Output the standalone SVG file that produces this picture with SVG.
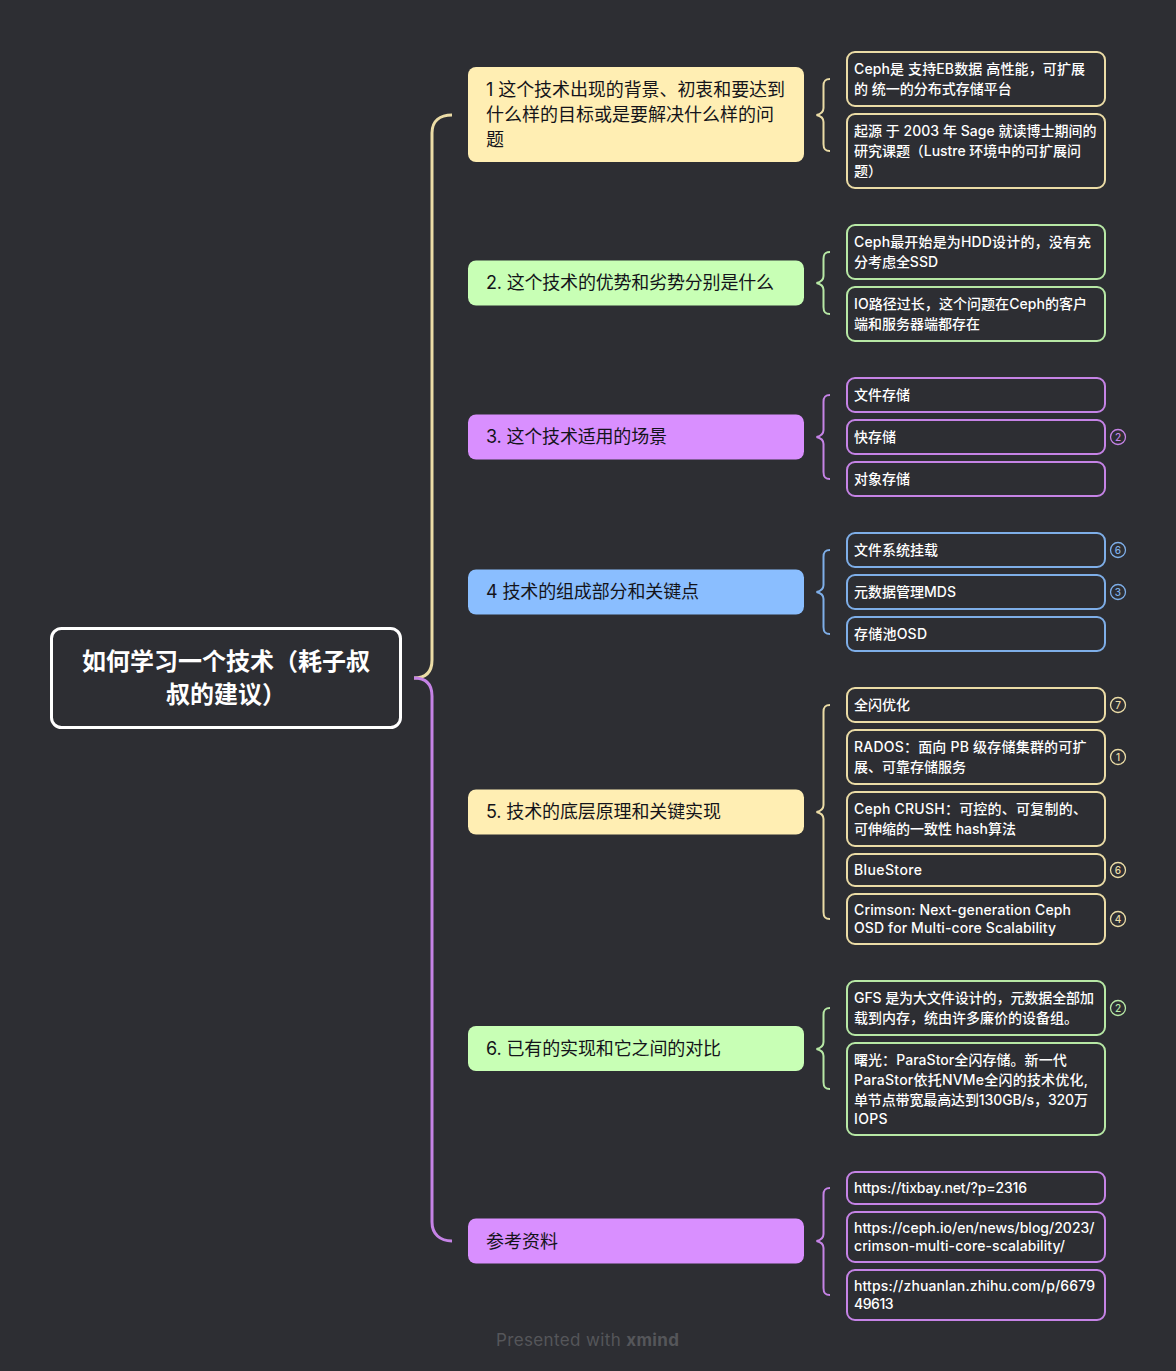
<svg xmlns="http://www.w3.org/2000/svg" width="1176" height="1371" viewBox="0 0 1176 1371">
<style>
text{font-family:"Inter","Noto Sans CJK SC",sans-serif}
.root{fill:none;stroke:#fff;stroke-width:3}
.rt{fill:#fff;font-size:24px;font-weight:700;text-anchor:middle}
.mt{fill:#14141a;font-size:18px}
.st{fill:#fff;font-size:14px;font-weight:500}
.main{stroke:none}
.sub{fill:#2d2e33;stroke-width:2}
.br{fill:none;stroke-width:2}
.m{fill:none;stroke-width:1.3}
.mn{font-size:10px;font-weight:500;text-anchor:middle}
.y{stroke:#ebdca6}.yf{fill:#ffeeb3}
.g{stroke:#b7e8a5}.gf{fill:#c8ffb5}
.p{stroke:#c583e6}.pf{fill:#d98fff}
.b{stroke:#7eaee8}.bf{fill:#8abeff}
.yt{fill:#ebdca6}.gt{fill:#b7e8a5}.pt{fill:#c583e6}.bt{fill:#7eaee8}
</style>
<rect width="1176" height="1371" fill="#2d2e33"/>
<g id="connectors">
<path class="br y" style="stroke-width:3" d="M414 678C426 678 432 672 432 660V133C432 121 440 115 452 115"/>
<path class="br p" style="stroke-width:3" d="M414 678C426 678 432 684 432 696V1222C432 1234 440 1241 452 1241"/>
<path class="br y" d="M830 79C825 79 823.500 81 823.500 86V108C823.500 112 821 114 816.500 115C821 116 823.500 118 823.500 122V144C823.500 149 825 151 830 151"/>
<path class="br g" d="M830 252C825 252 823.500 254 823.500 259V276C823.500 280 821 282 816.500 283C821 284 823.500 286 823.500 290V307C823.500 312 825 314 830 314"/>
<path class="br p" d="M830 395C825 395 823.500 397 823.500 402V430C823.500 434 821 436 816.500 437C821 438 823.500 440 823.500 444V472C823.500 477 825 479 830 479"/>
<path class="br b" d="M830 550C825 550 823.500 552 823.500 557V585C823.500 589 821 591 816.500 592C821 593 823.500 595 823.500 599V627C823.500 632 825 634 830 634"/>
<path class="br y" d="M830 705C825 705 823.500 707 823.500 712V805C823.500 809 821 811 816.500 812C821 813 823.500 815 823.500 819V912C823.500 917 825 919 830 919"/>
<path class="br g" d="M830 1008C825 1008 823.500 1010 823.500 1015V1042C823.500 1046 821 1048 816.500 1049C821 1050 823.500 1052 823.500 1056V1082C823.500 1087 825 1089 830 1089"/>
<path class="br p" d="M830 1188C825 1188 823.500 1190 823.500 1195V1234C823.500 1238 821 1240 816.500 1241C821 1242 823.500 1244 823.500 1248V1288C823.500 1293 825 1295 830 1295"/>
</g>
<g id="root"><rect class="root" x="51.500" y="628.500" width="349" height="99" rx="10"/><text class="rt" x="226" y="670">如何学习一个技术（耗子叔</text><text class="rt" x="226" y="703">叔的建议）</text></g>
<g id="t1"><rect class="main yf" x="468" y="67" width="336" height="95" rx="8"/><text class="mt" x="486" y="96" textLength="299">1 这个技术出现的背景、初衷和要达到</text><text class="mt" x="486" y="121">什么样的目标或是要解决什么样的问</text><text class="mt" x="486" y="146">题</text></g>
<g id="t2"><rect class="main gf" x="468" y="260.500" width="336" height="45" rx="8"/><text class="mt" x="486" y="289" textLength="288">2. 这个技术的优势和劣势分别是什么</text></g>
<g id="t3"><rect class="main pf" x="468" y="414.500" width="336" height="45" rx="8"/><text class="mt" x="486" y="443" textLength="181">3. 这个技术适用的场景</text></g>
<g id="t4"><rect class="main bf" x="468" y="569.500" width="336" height="45" rx="8"/><text class="mt" x="486" y="598" textLength="213">4 技术的组成部分和关键点</text></g>
<g id="t5"><rect class="main yf" x="468" y="789.500" width="336" height="45" rx="8"/><text class="mt" x="486" y="818" textLength="235">5. 技术的底层原理和关键实现</text></g>
<g id="t6"><rect class="main gf" x="468" y="1026" width="336" height="45" rx="8"/><text class="mt" x="486" y="1055" textLength="235">6. 已有的实现和它之间的对比</text></g>
<g id="t7"><rect class="main pf" x="468" y="1218.500" width="336" height="45" rx="8"/><text class="mt" x="486" y="1248">参考资料</text></g>
<g id="s11"><rect class="sub y" x="847" y="52" width="258" height="54" rx="8"/><text class="st" x="854" y="74" textLength="231">Ceph是 支持EB数据 高性能，可扩展</text><text class="st" x="854" y="94">的 统一的分布式存储平台</text></g>
<g id="s12"><rect class="sub y" x="847" y="114" width="258" height="74" rx="8"/><text class="st" x="854" y="136" textLength="242.500">起源 于 2003 年 Sage 就读博士期间的</text><text class="st" x="854" y="156" textLength="227">研究课题（Lustre 环境中的可扩展问</text><text class="st" x="854" y="176">题）</text></g>
<g id="s21"><rect class="sub g" x="847" y="225" width="258" height="54" rx="8"/><text class="st" x="854" y="247" textLength="237">Ceph最开始是为HDD设计的，没有充</text><text class="st" x="854" y="267" textLength="84">分考虑全SSD</text></g>
<g id="s22"><rect class="sub g" x="847" y="287" width="258" height="54" rx="8"/><text class="st" x="854" y="309" textLength="233">IO路径过长，这个问题在Ceph的客户</text><text class="st" x="854" y="329">端和服务器端都存在</text></g>
<g id="s31"><rect class="sub p" x="847" y="378" width="258" height="34" rx="8"/><text class="st" x="854" y="400">文件存储</text></g>
<g id="s32"><rect class="sub p" x="847" y="420" width="258" height="34" rx="8"/><text class="st" x="854" y="442">快存储</text><circle class="m p" cx="1118" cy="437" r="7.500"/><text class="mn pt" x="1118" y="440.500">2</text></g>
<g id="s33"><rect class="sub p" x="847" y="462" width="258" height="34" rx="8"/><text class="st" x="854" y="484">对象存储</text></g>
<g id="s41"><rect class="sub b" x="847" y="533" width="258" height="34" rx="8"/><text class="st" x="854" y="555">文件系统挂载</text><circle class="m b" cx="1118" cy="550" r="7.500"/><text class="mn bt" x="1118" y="553.500">6</text></g>
<g id="s42"><rect class="sub b" x="847" y="575" width="258" height="34" rx="8"/><text class="st" x="854" y="597" textLength="102">元数据管理MDS</text><circle class="m b" cx="1118" cy="592" r="7.500"/><text class="mn bt" x="1118" y="595.500">3</text></g>
<g id="s43"><rect class="sub b" x="847" y="617" width="258" height="34" rx="8"/><text class="st" x="854" y="639" textLength="73">存储池OSD</text></g>
<g id="s51"><rect class="sub y" x="847" y="688" width="258" height="34" rx="8"/><text class="st" x="854" y="710">全闪优化</text><circle class="m y" cx="1118" cy="705" r="7.500"/><text class="mn yt" x="1118" y="708.500">7</text></g>
<g id="s52"><rect class="sub y" x="847" y="730" width="258" height="54" rx="8"/><text class="st" x="854" y="752" textLength="232.500">RADOS：面向 PB 级存储集群的可扩</text><text class="st" x="854" y="772">展、可靠存储服务</text><circle class="m y" cx="1118" cy="757" r="7.500"/><text class="mn yt" x="1118" y="760.500">1</text></g>
<g id="s53"><rect class="sub y" x="847" y="792" width="258" height="54" rx="8"/><text class="st" x="854" y="814" textLength="233">Ceph CRUSH：可控的、可复制的、</text><text class="st" x="854" y="834" textLength="162">可伸缩的一致性 hash算法</text></g>
<g id="s54"><rect class="sub y" x="847" y="854" width="258" height="32" rx="8"/><text class="st" x="854" y="875" textLength="68">BlueStore</text><circle class="m y" cx="1118" cy="870" r="7.500"/><text class="mn yt" x="1118" y="873.500">6</text></g>
<g id="s55"><rect class="sub y" x="847" y="894" width="258" height="50" rx="8"/><text class="st" x="854" y="915" textLength="217">Crimson: Next-generation Ceph</text><text class="st" x="854" y="933" textLength="202">OSD for Multi-core Scalability</text><circle class="m y" cx="1118" cy="919" r="7.500"/><text class="mn yt" x="1118" y="922.500">4</text></g>
<g id="s61"><rect class="sub g" x="847" y="981" width="258" height="54" rx="8"/><text class="st" x="854" y="1003" textLength="240">GFS 是为大文件设计的，元数据全部加</text><text class="st" x="854" y="1023">载到内存，统由许多廉价的设备组。</text><circle class="m g" cx="1118" cy="1008" r="7.500"/><text class="mn gt" x="1118" y="1011.500">2</text></g>
<g id="s62"><rect class="sub g" x="847" y="1043" width="258" height="92" rx="8"/><text class="st" x="854" y="1065" textLength="212.700">曙光：ParaStor全闪存储。新一代</text><text class="st" x="854" y="1085" textLength="234">ParaStor依托NVMe全闪的技术优化,</text><text class="st" x="854" y="1105" textLength="234">单节点带宽最高达到130GB/s，320万</text><text class="st" x="854" y="1124" textLength="33.500">IOPS</text></g>
<g id="s71"><rect class="sub p" x="847" y="1172" width="258" height="32" rx="8"/><text class="st" x="854" y="1193" textLength="173">https://tixbay.net/?p=2316</text></g>
<g id="s72"><rect class="sub p" x="847" y="1212" width="258" height="50" rx="8"/><text class="st" x="854" y="1233" textLength="240.500">https://ceph.io/en/news/blog/2023/</text><text class="st" x="854" y="1251" textLength="211">crimson-multi-core-scalability/</text></g>
<g id="s73"><rect class="sub p" x="847" y="1270" width="258" height="50" rx="8"/><text class="st" x="854" y="1291" textLength="241">https://zhuanlan.zhihu.com/p/6679</text><text class="st" x="854" y="1309" textLength="39.500">49613</text></g>
<text x="496" y="1346" font-size="17" fill="#55565a" textLength="183">Presented with <tspan font-weight="700">xmind</tspan></text>
</svg>
